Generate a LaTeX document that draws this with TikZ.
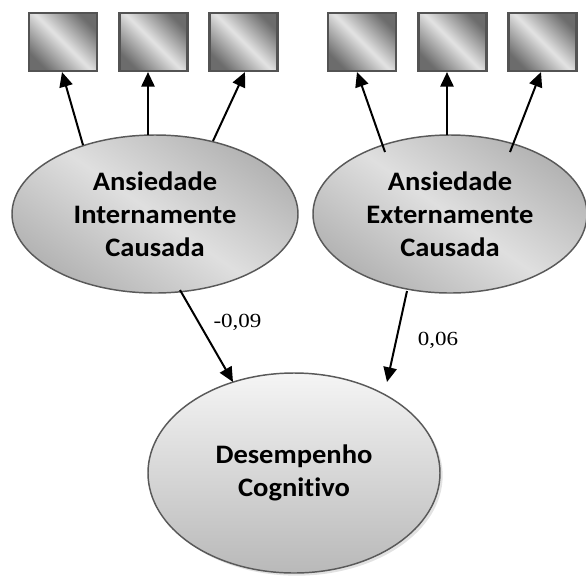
\documentclass[tikz,border=0pt]{standalone}
\usepackage{fontspec}
\setmainfont{Carlito}[Ligatures=NoCommon]
\newfontfamily\labelfont{Liberation Serif}
\usetikzlibrary{arrows.meta,shadows,shapes.geometric}
\newcommand{\widetext}[1]{\scalebox{1.07}[1]{#1}}
\begin{document}
\begin{tikzpicture}[x=0.75pt,y=-0.75pt,
  indicator/.style={draw=gray!65!black,line width=1.6pt,minimum width=51pt,minimum height=43.5pt,
    top color=gray!85!black,bottom color=gray!85!black,middle color=gray!22,shading angle=-45,inner sep=0pt},
  latent/.style={ellipse,draw=gray!70!black,line width=1.1pt,align=center,
    font=\fontsize{20}{24.75}\selectfont\bfseries,inner sep=0pt},
  load/.style={-{Triangle[length=11pt,width=10pt]},line width=1.5pt},
  coef/.style={font=\labelfont\fontsize{15}{17}\selectfont,xscale=1.15}]
\useasboundingbox (0,0) rectangle (586,576);
% indicator boxes
\node[indicator] (b1) at (63,42) {};
\node[indicator] (b2) at (153.5,42) {};
\node[indicator] (b3) at (243.5,42) {};
\node[indicator] (b4) at (362,42) {};
\node[indicator] (b5) at (452.5,42) {};
\node[indicator] (b6) at (542.5,42) {};
% latent variables
\node[latent,minimum width=214.5pt,minimum height=118.5pt,
  top color=gray!60,bottom color=gray!60,middle color=gray!25,shading angle=-35] (ai) at (155,214)
  {\widetext{Ansiedade}\\\widetext{Internamente}\\\widetext{Causada}};
\node[latent,minimum width=205.5pt,minimum height=118.5pt,
  top color=gray!60,bottom color=gray!60,middle color=gray!25,shading angle=-35] (ae) at (450,214)
  {\widetext{Ansiedade}\\\widetext{Externamente}\\\widetext{Causada}};
\node[latent,minimum width=219pt,minimum height=150pt,
  top color=gray!8,bottom color=gray!55,
  drop shadow={shadow xshift=2pt,shadow yshift=-2pt,fill=gray!45}] (dc) at (294,473)
  {\widetext{Desempenho}\\\widetext{Cognitivo}};
% loadings
\coordinate (p1) at (83,145);
\coordinate (p2) at (148,135);
\coordinate (p3) at (213,141);
\coordinate (p4) at (385,152);
\coordinate (p5) at (447,135);
\coordinate (p6) at (510,152);
\draw[load] (p1) -- (b1.south -| 62,0);
\draw[load] (p2) -- (p2 |- b2.south);
\draw[load] (p3) -- (b3.south -| 245,0);
\draw[load] (p4) -- (b4.south -| 357,0);
\draw[load] (p5) -- (p5 |- b5.south);
\draw[load] (p6) -- (b6.south -| 541,0);
% structural paths
\coordinate (s1) at (180,290);
\coordinate (t1) at (233,382);
\coordinate (s2) at (407,291);
\coordinate (t2) at (387,382);
\draw[load] (s1) -- (t1);
\draw[load] (s2) -- (t2);
\node[coef] (c1) at (237.5,322) {-0,09};
\node[coef] (c2) at (438,340) {0,06};
\end{tikzpicture}
\end{document}
